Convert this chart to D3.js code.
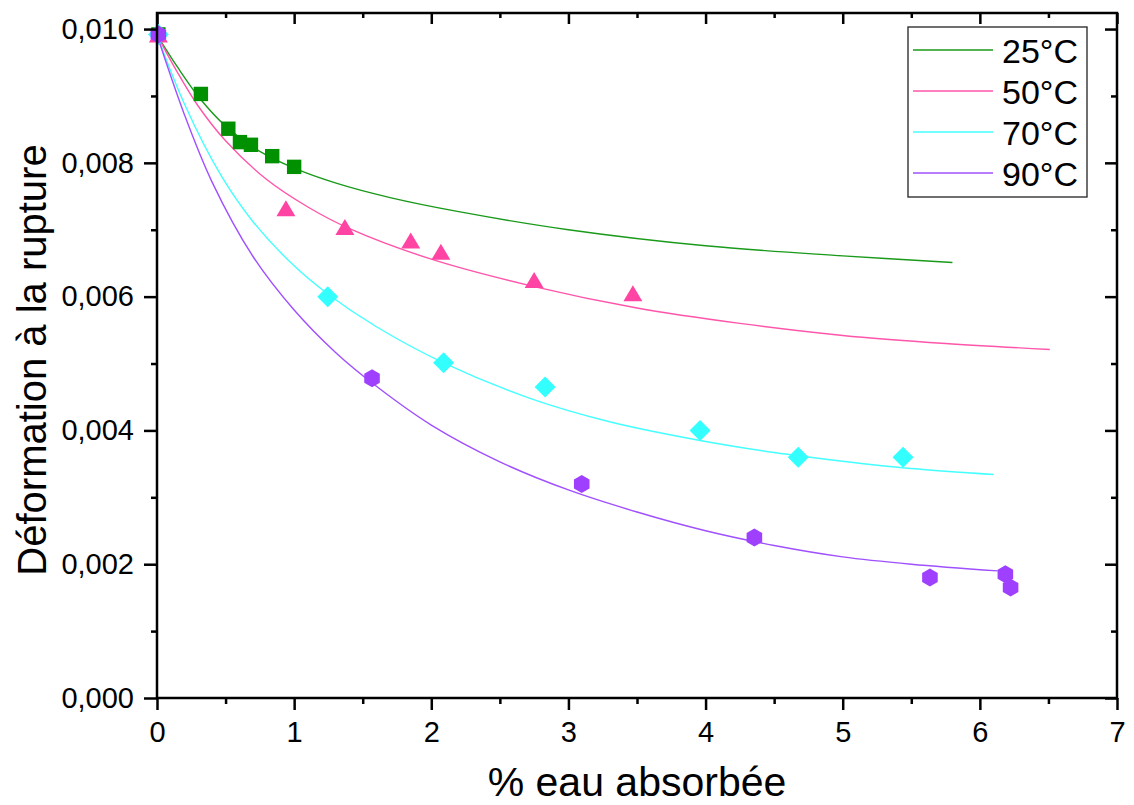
<!DOCTYPE html>
<html><head><meta charset="utf-8">
<script src="https://cdn.jsdelivr.net/npm/d3@7"></script>
<style>body{margin:0;background:#fff}svg{display:block}text{font-family:"Liberation Sans",Arial,sans-serif;fill:#000}</style>
</head><body><svg id="c" width="1134" height="805"></svg>
<script>
// ---- data ----
const seriesNames = ["25°C","50°C","70°C","90°C"];
const xTicks = [0,1,2,3,4,5,6,7];
const xTickLabels = ["0","1","2","3","4","5","6","7"];
const yTicks = [0,0.002,0.004,0.006,0.008,0.010];
const yTickLabels = ["0,000","0,002","0,004","0,006","0,008","0,010"];

// measured points
const pts25x = [0.01,0.32,0.52,0.605,0.685,0.84,1.0];
const pts25y = [0.00992,0.00903,0.00851,0.00831,0.00827,0.00810,0.00794];
const pts50x = [0.01,0.94,1.37,1.85,2.07,2.75,3.47];
const pts50y = [0.00992,0.00732,0.00704,0.00684,0.00667,0.00625,0.00605];
const pts70x = [0.01,1.245,2.09,2.83,3.96,4.676,5.44];
const pts70y = [0.00992,0.00600,0.00501,0.00465,0.00400,0.00360,0.00360];
const pts90x = [0.01,1.568,3.097,4.356,5.636,6.186,6.224];
const pts90y = [0.00992,0.00478,0.00320,0.00240,0.00180,0.00185,0.00165];

// fitted curves
const fit25x = [0,0.15,0.31,0.5,0.75,1.0,1.3,1.7,2.2,3.0,4.0,5.0,5.8];
const fit25y = [0.00991,0.00943,0.00897,0.00855,0.00817,0.00792,0.00770,0.00748,0.00727,0.00700,0.00676,0.00661,0.00651];
const fit50x = [0,0.15,0.3,0.5,0.8,1.1,1.4,2.0,2.75,3.5,4.25,5.0,5.75,6.51];
const fit50y = [0.00991,0.00935,0.00885,0.00833,0.00775,0.00734,0.00702,0.00656,0.00615,0.00583,0.00560,0.00542,0.00530,0.00521];
const fit70x = [0,0.2,0.47,0.7,1.0,1.245,1.6,2.09,2.72,3.3,3.96,4.5,5.0,5.5,6.10];
const fit70y = [0.00991,0.00888,0.00780,0.00712,0.00646,0.00604,0.00555,0.00501,0.00448,0.00413,0.00385,0.00367,0.00354,0.00343,0.00334];
const fit90x = [0,0.2,0.4,0.7,1.0,1.3,1.6,2.0,2.5,3.0,3.5,4.0,4.5,5.0,5.5,6.13];
const fit90y = [0.00991,0.00872,0.00772,0.00660,0.00580,0.00517,0.00466,0.00408,0.00353,0.00311,0.00278,0.00250,0.00228,0.00211,0.00200,0.00190];

const lineColors = ["#1a9a1a","#ff55aa","#44ffff","#a050ff"];
const markColors = ["#009000","#ff44a4","#33ffff","#a040ff"];

// ---- chart ----
const svg = d3.select("#c");
const x = d3.scaleLinear().domain([0,7]).range([157,1117]);
const y = d3.scaleLinear().domain([0,0.01024]).range([698,13]);

const fits = [[fit25x,fit25y],[fit50x,fit50y],[fit70x,fit70y],[fit90x,fit90y]];
const pts = [[pts25x,pts25y],[pts50x,pts50y],[pts70x,pts70y],[pts90x,pts90y]];

const line = d3.line().x(d=>x(d[0])).y(d=>y(d[1])).curve(d3.curveCatmullRom.alpha(0.5));
fits.forEach((f,i)=>{
  const data = f[0].map((v,k)=>[v,f[1][k]]);
  svg.append("path").attr("d",line(data)).attr("fill","none")
     .attr("stroke",lineColors[i]).attr("stroke-width",1.4);
});

function hexPath(r){
  let p="";
  for(let k=0;k<6;k++){const a=Math.PI/3*k-Math.PI/2;p+=(k?"L":"M")+(r*Math.cos(a)).toFixed(2)+","+(r*Math.sin(a)).toFixed(2);}
  return p+"Z";
}
function diamondPath(r){return `M0,${-r}L${r},0L0,${r}L${-r},0Z`;}
function squarePath(h){return `M${-h},${-h}H${h}V${h}H${-h}Z`;}
function trianglePath(w,h){return `M0,${-h/2}L${w/2},${h/2}L${-w/2},${h/2}Z`;}
pts.forEach((p,i)=>{
  p[0].forEach((v,k)=>{
    const cx=x(v), cy=y(p[1][k]);
    let d;
    if(i===0) d=squarePath(7.2);
    else if(i===1) d=trianglePath(19,16);
    else if(i===2) d=diamondPath(10.5);
    else d=hexPath(9);
    svg.append("path").attr("d",d).attr("transform",`translate(${cx},${cy})`)
      .attr("fill",markColors[i]);
  });
});

// axes
const ax = svg.append("g");
const xMinor = d3.range(0.5,7,1);
const yMinor = d3.range(0.001,0.0102,0.002);
function styleAxis(g,withText){
  g.select(".domain").remove();
  g.selectAll("line").attr("stroke-width",2.5);
  if(withText) g.selectAll("text").attr("font-size",29).attr("font-family","Liberation Sans, Arial");
}
ax.append("g").attr("transform","translate(0,698)")
  .call(d3.axisBottom(x).tickValues(xTicks).tickFormat((d,i)=>xTickLabels[i]).tickSize(12).tickPadding(11))
  .call(g=>styleAxis(g,true));
ax.append("g").attr("transform","translate(0,698)")
  .call(d3.axisBottom(x).tickValues(xMinor).tickFormat("").tickSize(6)).call(g=>styleAxis(g,false));
ax.append("g").attr("transform","translate(0,13)")
  .call(d3.axisBottom(x).tickValues(xTicks).tickFormat("").tickSize(11)).call(g=>styleAxis(g,false));
ax.append("g").attr("transform","translate(0,13)")
  .call(d3.axisBottom(x).tickValues(xMinor).tickFormat("").tickSize(5)).call(g=>styleAxis(g,false));
ax.append("g").attr("transform","translate(157,0)")
  .call(d3.axisLeft(y).tickValues(yTicks).tickFormat((d,i)=>yTickLabels[i]).tickSize(13).tickPadding(10))
  .call(g=>styleAxis(g,true));
ax.append("g").attr("transform","translate(157,0)")
  .call(d3.axisLeft(y).tickValues(yMinor).tickFormat("").tickSize(6)).call(g=>styleAxis(g,false));
ax.append("g").attr("transform","translate(1117,0)")
  .call(d3.axisLeft(y).tickValues(yTicks).tickFormat("").tickSize(12)).call(g=>styleAxis(g,false));
ax.append("g").attr("transform","translate(1117,0)")
  .call(d3.axisLeft(y).tickValues(yMinor).tickFormat("").tickSize(6)).call(g=>styleAxis(g,false));
svg.append("rect").attr("x",157).attr("y",13).attr("width",960).attr("height",685)
  .attr("fill","none").attr("stroke","#000").attr("stroke-width",2.5);

// titles
svg.append("text").attr("x",637).attr("y",796).attr("text-anchor","middle")
  .attr("font-size",41).text("% eau absorbée");
svg.append("text").attr("transform","translate(46,360) rotate(-90)").attr("text-anchor","middle")
  .attr("font-size",40).text("Déformation à la rupture");

// legend
const lg = svg.append("g");
lg.append("rect").attr("x",908).attr("y",27).attr("width",179).attr("height",170)
  .attr("fill","#fff").attr("stroke","#222").attr("stroke-width",1.3);
seriesNames.forEach((n,i)=>{
  const ly = 50 + i*41;
  lg.append("line").attr("x1",913).attr("x2",993).attr("y1",ly).attr("y2",ly)
    .attr("stroke",lineColors[i]).attr("stroke-width",1.6);
  lg.append("text").attr("x",1002).attr("y",ly+13).attr("font-size",34).text(n);
});
</script></body></html>
